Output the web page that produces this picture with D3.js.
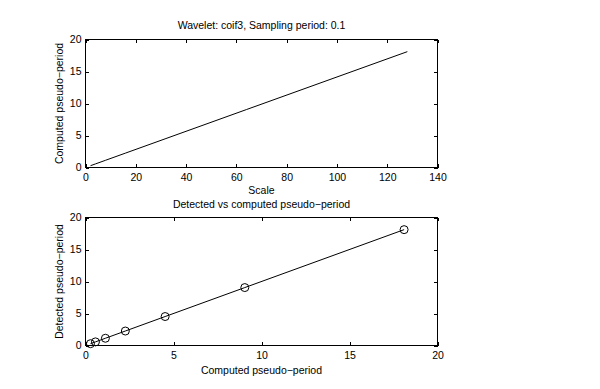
<!DOCTYPE html>
<html>
<head>
<meta charset="utf-8">
<script src="https://cdn.jsdelivr.net/npm/d3@7"></script>
<style>
  body { margin: 0; background: #fff; }
  svg text { font-family: "Liberation Sans", Arial, sans-serif; font-size: 10.5px; fill: #000; }
</style>
</head>
<body>
<svg id="fig"></svg>
<script>
// scales used and their computed pseudo-periods (delta = 0.1)
var scales = [2, 4, 8, 16, 32, 64, 128];
var computedPeriods = [0.283, 0.566, 1.131, 2.263, 4.525, 9.051, 18.102];
var detectedPeriods = [0.283, 0.566, 1.131, 2.263, 4.525, 9.051, 18.102];

var topXTicks = [0, 20, 40, 60, 80, 100, 120, 140];
var yTicks = [0, 5, 10, 15, 20];
var bottomXTicks = [0, 5, 10, 15, 20];

var width = 600, height = 389;
var svg = d3.select("#fig").attr("width", width).attr("height", height);

function drawAxes(box, xs, ys, xt, yt) {
    var g = svg.append("g");
    var tick = 3.5;

    g.append("g")
        .attr("transform", "translate(0," + box.bottom + ")")
        .call(d3.axisBottom(xs).tickValues(xt).tickSizeInner(-tick).tickSizeOuter(0).tickPadding(6));
    g.append("g")
        .attr("transform", "translate(0," + box.top + ")")
        .call(d3.axisTop(xs).tickValues(xt).tickFormat("").tickSizeInner(-tick).tickSizeOuter(0));
    g.append("g")
        .attr("transform", "translate(" + box.left + ",0)")
        .call(d3.axisLeft(ys).tickValues(yt).tickSizeInner(-tick).tickSizeOuter(0).tickPadding(4));
    g.append("g")
        .attr("transform", "translate(" + box.right + ",0)")
        .call(d3.axisRight(ys).tickValues(yt).tickFormat("").tickSizeInner(-tick).tickSizeOuter(0));

    g.selectAll(".domain").remove();
    g.selectAll(".tick line").attr("stroke", "#000").attr("shape-rendering", "crispEdges");
    g.selectAll(".tick text").style("font-size", "10.5px").attr("fill", "#000");

    g.append("rect")
        .attr("x", box.left).attr("y", box.top)
        .attr("width", box.right - box.left).attr("height", box.bottom - box.top)
        .attr("fill", "none").attr("stroke", "#000")
        .attr("shape-rendering", "crispEdges");
    return g;
}

function label(x, y, txt, rotate) {
    var t = svg.append("text")
        .attr("text-anchor", "middle")
        .text(txt);
    if (rotate) {
        t.attr("transform", "translate(" + x + "," + y + ") rotate(-90)");
    } else {
        t.attr("x", x).attr("y", y);
    }
}

// ---- top subplot
var box1 = {left: 85.5, right: 437.5, top: 39.5, bottom: 167.5};
var x1 = d3.scaleLinear().domain([0, 140]).range([box1.left, box1.right]);
var y1 = d3.scaleLinear().domain([0, 20]).range([box1.bottom, box1.top]);

drawAxes(box1, x1, y1, topXTicks, yTicks);

var line1 = d3.line()
    .x(function (d, i) { return x1(scales[i]); })
    .y(function (d) { return y1(d); });

svg.append("path")
    .datum(computedPeriods)
    .attr("d", line1)
    .attr("fill", "none")
    .attr("stroke", "#000")
    .attr("stroke-width", 1);

label((box1.left + box1.right) / 2, 29, "Wavelet: coif3, Sampling period: 0.1");
label((box1.left + box1.right) / 2, 194, "Scale");
label(63, (box1.top + box1.bottom) / 2, "Computed pseudo\u2212period", true);

// ---- bottom subplot
var box2 = {left: 85.5, right: 437.5, top: 217.5, bottom: 345.5};
var x2 = d3.scaleLinear().domain([0, 20]).range([box2.left, box2.right]);
var y2 = d3.scaleLinear().domain([0, 20]).range([box2.bottom, box2.top]);

drawAxes(box2, x2, y2, bottomXTicks, yTicks);

var line2 = d3.line()
    .x(function (d, i) { return x2(computedPeriods[i]); })
    .y(function (d) { return y2(d); });

svg.append("path")
    .datum(detectedPeriods)
    .attr("d", line2)
    .attr("fill", "none")
    .attr("stroke", "#000")
    .attr("stroke-width", 1);

svg.append("g")
    .selectAll("circle")
    .data(detectedPeriods)
    .enter().append("circle")
    .attr("cx", function (d, i) { return x2(computedPeriods[i]); })
    .attr("cy", function (d) { return y2(d); })
    .attr("r", 4)
    .attr("fill", "none")
    .attr("stroke", "#000")
    .attr("stroke-width", 1);

label((box2.left + box2.right) / 2, 208, "Detected vs computed pseudo\u2212period");
label((box2.left + box2.right) / 2, 374, "Computed pseudo\u2212period");
label(63, (box2.top + box2.bottom) / 2, "Detected pseudo\u2212period", true);
</script>
</body>
</html>
